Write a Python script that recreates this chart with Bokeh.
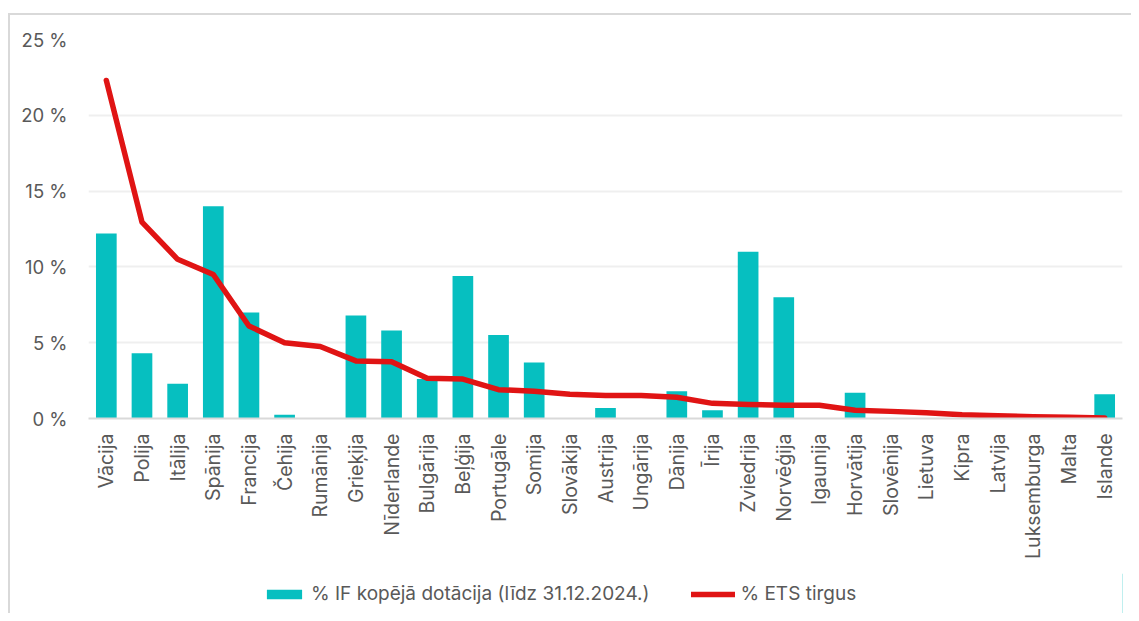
from bokeh.plotting import figure
from bokeh.layouts import column
from bokeh.models import Legend, LegendItem, FixedTicker, CustomJSTickFormatter, Range1d
from bokeh.embed import file_html
from bokeh.resources import INLINE
import math

countries = ["Vācija", "Polija", "Itālija", "Spānija", "Francija", "Čehija", "Rumānija",
             "Grieķija", "Nīderlande", "Bulgārija", "Beļģija", "Portugāle", "Somija",
             "Slovākija", "Austrija", "Ungārija", "Dānija", "Īrija", "Zviedrija", "Norvēģija",
             "Igaunija", "Horvātija", "Slovēnija", "Lietuva", "Kipra", "Latvija",
             "Luksemburga", "Malta", "Islande"]
if_share = [12.2, 4.3, 2.3, 14.0, 7.0, 0.25, 0.0, 6.8, 5.8, 2.6, 9.4, 5.5, 3.7,
            0.0, 0.7, 0.0, 1.8, 0.55, 11.0, 8.0, 0.0, 1.7, 0.0, 0.0, 0.0, 0.0,
            0.0, 0.0, 1.6]
ets_share = [22.3, 12.95, 10.5, 9.5, 6.1, 5.0, 4.75, 3.8, 3.75, 2.65, 2.6, 1.9, 1.8,
             1.6, 1.52, 1.52, 1.4, 1.0, 0.93, 0.87, 0.87, 0.55, 0.47, 0.38, 0.24, 0.18,
             0.11, 0.08, 0.04]
y_ticks = [0, 5, 10, 15, 20, 25]
series_names = ["% IF kopējā dotācija (līdz 31.12.2024.)", "% ETS tirgus"]

FONT = "Inter"
GREY = "#595959"
BAR = "#06BFC0"
RED = "#E01414"

p = figure(x_range=countries, y_range=(0, 25), frame_width=1034, frame_height=379,
           output_backend="svg", toolbar_location=None,
           min_border_left=78, min_border_top=24, min_border_right=9, min_border_bottom=155)
p.background_fill_color = "white"
p.border_fill_color = "white"
p.outline_line_color = None

p.vbar(x=countries, top=if_share, width=0.58, fill_color=BAR, line_color=None)
p.line(x=countries, y=ets_share, line_color=RED, line_width=5.5,
       line_cap="round", line_join="round")

p.yaxis.ticker = FixedTicker(ticks=y_ticks)
p.yaxis.formatter = CustomJSTickFormatter(code="return tick + ' %';")
p.yaxis.axis_line_color = None
p.yaxis.major_tick_line_color = None
p.yaxis.minor_tick_line_color = None
p.yaxis.major_label_standoff = 15
p.yaxis.major_label_text_font = FONT
p.yaxis.major_label_text_font_size = "18.5px"
p.yaxis.major_label_text_color = GREY

p.xaxis.axis_line_color = "#d9d9d9"
p.xaxis.axis_line_width = 2
p.xaxis.major_tick_line_color = None
p.xaxis.minor_tick_line_color = None
p.xaxis.major_label_orientation = math.pi / 2
p.xaxis.major_label_standoff = 9
p.xaxis.major_label_text_font = FONT
p.xaxis.major_label_text_font_size = "19.5px"
p.xaxis.major_label_text_color = GREY

p.xgrid.grid_line_color = None
p.ygrid.grid_line_color = "#efefef"
p.ygrid.grid_line_width = 2

# legend strip (its proxy glyphs sit outside the visible range)
q = figure(width=1121, height=40, output_backend="svg", toolbar_location=None, min_border=0,
           x_range=Range1d(0, 1), y_range=Range1d(0, 1),
           x_axis_location=None, y_axis_location=None)
q.grid.visible = False
q.outline_line_color = None
q.background_fill_color = "white"
q.border_fill_color = "white"
lb = q.vbar(x=[10], top=[1], width=0.5, fill_color=BAR, line_color=None)
ll = q.line(x=[10, 11], y=[5, 5], line_color=RED, line_width=5.5, line_cap="round")
legend = Legend(items=[LegendItem(label=series_names[0], renderers=[lb]),
                       LegendItem(label=series_names[1], renderers=[ll])],
                orientation="horizontal", location=(174, 8),
                label_text_font=FONT, label_text_font_size="19px", label_text_color=GREY,
                glyph_width=44, glyph_height=12, label_standoff=5, spacing=42,
                border_line_color=None, background_fill_alpha=0, margin=0, padding=0)
q.add_layout(legend, "center")

layout = column(p, q, spacing=0,
                styles={"border-left": "2px solid #d9d9d9", "border-top": "2px solid #d9d9d9",
                        "margin-top": "13px", "margin-left": "8px"})

open("out.html", "w").write(file_html(layout, INLINE))
